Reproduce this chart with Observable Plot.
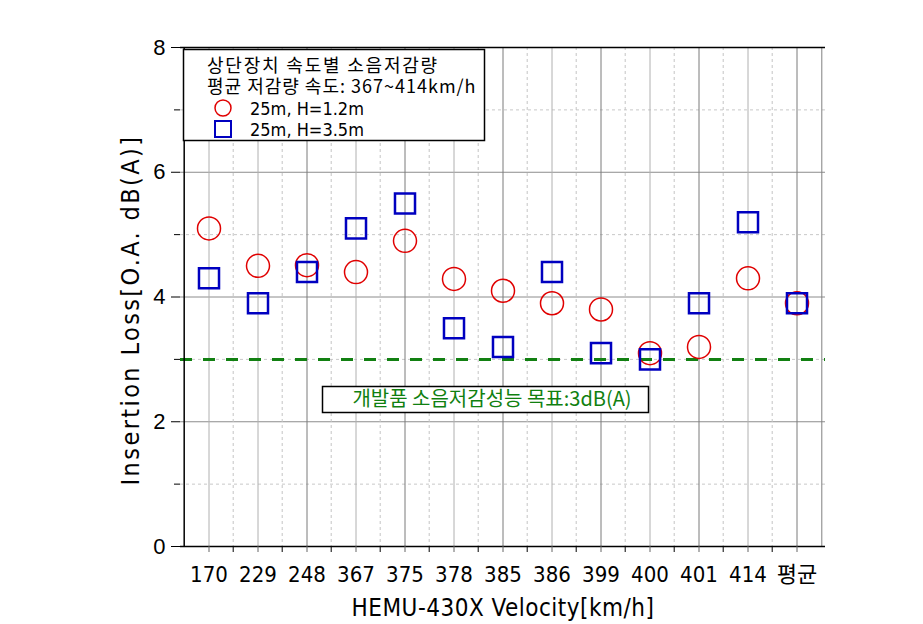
<!DOCTYPE html>
<html><head><meta charset="utf-8">
<script src="https://cdn.jsdelivr.net/npm/d3@7"></script>
<script src="https://cdn.jsdelivr.net/npm/@observablehq/plot@0.6"></script>
<style>body{margin:0;background:#fff}</style></head>
<body><div id="chart"></div>
<script>
const categories = ["170","229","248","367","375","378","385","386","399","400","401","414","평균"];
const circleValues = [5.10,4.50,4.51,4.40,4.90,4.29,4.10,3.90,3.80,3.10,3.20,4.30,3.90];
const squareValues = [4.30,3.90,4.40,5.10,5.50,3.50,3.20,4.40,3.10,3.00,3.90,5.20,3.90];
const majorY = [0,2,4,6,8];
const minorY = [1,3,5,7];
const gridY = [2,4,6];
const targetValue = 3;
const legendTitle1 = "상단장치 속도별 소음저감량";
const legendTitle2 = "평균 저감량 속도: 367~414km/h";
const seriesNames = ["25m, H=1.2m","25m, H=3.5m"];
const targetLabel = "개발품 소음저감성능 목표:3dB(A)";
const xTitle = "HEMU-430X Velocity[km/h]";
const yTitle = "Insertion Loss[O.A. dB(A)]";

const data = categories.map((c,i)=>({cat:c, circle:circleValues[i], square:squareValues[i], i}));
const W=923,H=624,ML=180,MR=98,MT=47,MB=78;
const bw = (W-ML-MR)/categories.length;
const FONT = "'Liberation Sans Narrow','DejaVu Sans Condensed','Noto Sans CJK KR',sans-serif";
const KFONT = "'Noto Sans CJK KR',sans-serif";

const chart = Plot.plot({
  width:W, height:H, marginLeft:ML, marginRight:MR, marginTop:MT, marginBottom:MB,
  style:{background:"#fff", fontFamily:FONT, color:"#000"},
  x:{type:"band", domain:categories, padding:0, label:null},
  y:{domain:[0,8], label:null},
  marks:[
    Plot.ruleY(minorY,{stroke:"#c8c8c8", strokeDasharray:"3,3"}),
    Plot.ruleY(gridY,{stroke:"#8c8c8c"}),
    Plot.ruleX(categories.slice(1),{dx:-bw/2, stroke:"#c4c4c4", strokeDasharray:"3,3"}),
    Plot.ruleX(categories.filter((c,i)=>i%2===1||i===0),{stroke:"#b0b0b0"}),
    Plot.ruleX(categories.filter((c,i)=>i%2===0&&i>0),{stroke:"#7a7a7a"}),
    Plot.ruleX([categories[categories.length-1]],{dx:bw/2, stroke:"#808080"}),
    Plot.ruleY([targetValue],{stroke:"#128012", strokeWidth:3, strokeDasharray:"12,11"}),
    Plot.ruleY([0],{stroke:"#000", strokeWidth:1.5}),
    Plot.ruleY([8],{stroke:"#000", strokeWidth:1.5}),
    Plot.ruleX([categories[0]],{dx:-bw/2, stroke:"#000", strokeWidth:1.5}),
    Plot.axisY({ticks:majorY, tickSize:9, tickPadding:6, fontSize:22, fontFamily:"'Liberation Sans',sans-serif", label:null}),
    Plot.axisY({ticks:minorY, tickSize:6, tickFormat:()=>"", label:null}),
    Plot.axisX({tickSize:6, tickPadding:14, fontSize:22, label:null, stroke:"#666"}),
    Plot.ruleX(categories.slice(1),{dx:-bw/2, y1:0, y2:0, insetBottom:-6, stroke:"#000"}),
    Plot.dot(data,{x:"cat", y:"circle", r:11.5, stroke:"#e00000", strokeWidth:1.5, fill:"none"}),
    Plot.dot(data,{x:"cat", y:"square", symbol:"square", r:11.3, stroke:"#0000c0", strokeWidth:2.5, fill:"none"}),
    Plot.text([xTitle],{frameAnchor:"bottom", dy:62, fontSize:24, lineAnchor:"middle", textAnchor:"middle", fill:"#000"}),
    Plot.text([yTitle],{frameAnchor:"left", dx:-50, dy:13, rotate:-90, fontSize:25, lineAnchor:"middle", textAnchor:"middle", fill:"#000"})
  ]
});
document.getElementById("chart").appendChild(chart);

const svg = d3.select(chart);
svg.selectAll("text").filter(function(){ return this.textContent === yTitle; }).attr("letter-spacing", 2.4);
svg.selectAll("text").filter(function(){ return this.textContent === xTitle; }).attr("letter-spacing", 0.5);

const g = svg.append("g").attr("font-family", KFONT).attr("text-anchor","start");
g.append("rect").attr("x",183.5).attr("y",49.5).attr("width",301).attr("height",91)
  .attr("fill","#fff").attr("stroke","#000").attr("stroke-width",1.5);
g.append("text").attr("x",207).attr("y",72).attr("font-size",18).attr("letter-spacing",1.8).text(legendTitle1);
g.append("text").attr("x",207).attr("y",93).attr("font-size",18).attr("letter-spacing",1).text(legendTitle2);
g.append("circle").attr("cx",223).attr("cy",108).attr("r",8).attr("fill","none").attr("stroke","#e00000").attr("stroke-width",1.5);
g.append("rect").attr("x",215).attr("y",121).attr("width",16).attr("height",16).attr("fill","none").attr("stroke","#0000c0").attr("stroke-width",2);
g.append("text").attr("x",250).attr("y",115).attr("font-size",18).attr("font-family",FONT).text(seriesNames[0]);
g.append("text").attr("x",250).attr("y",136).attr("font-size",18).attr("font-family",FONT).text(seriesNames[1]);

const a = svg.append("g").attr("font-family", KFONT);
a.append("rect").attr("x",322.5).attr("y",386.5).attr("width",326).attr("height",26)
  .attr("fill","#fff").attr("stroke","#000").attr("stroke-width",1.5);
a.append("text").attr("x",492).attr("y",406).attr("text-anchor","middle").attr("font-size",20)
  .attr("fill","#108010").text(targetLabel);
</script></body></html>
